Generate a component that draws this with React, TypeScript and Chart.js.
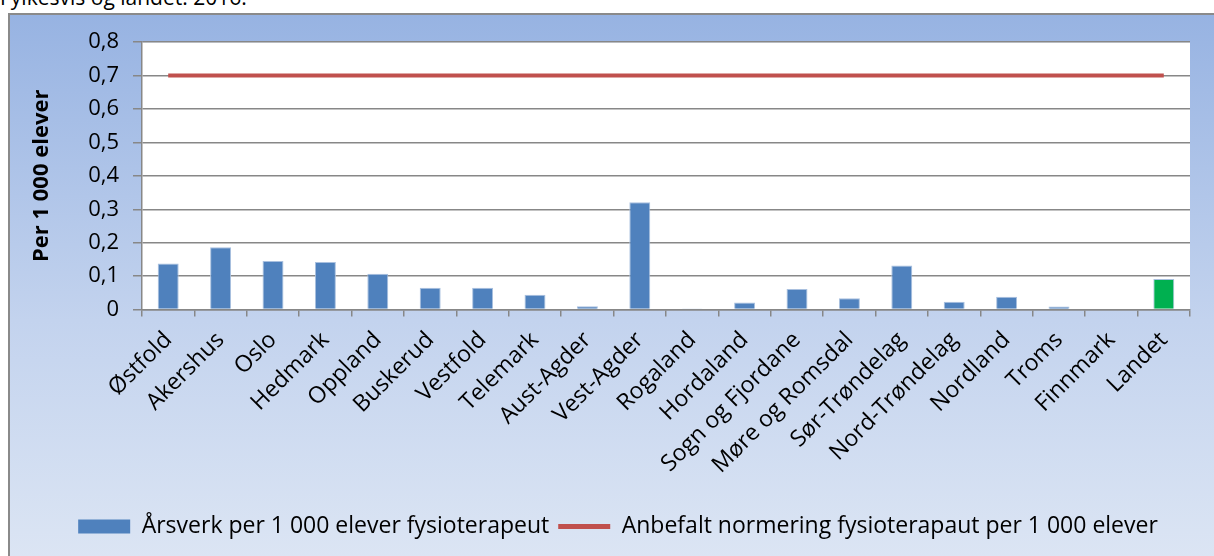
import React, { useEffect, useRef } from "react";
import { Chart, registerables } from "chart.js";

Chart.register(...registerables);

const categories = [
  "Østfold", "Akershus", "Oslo", "Hedmark", "Oppland", "Buskerud", "Vestfold",
  "Telemark", "Aust-Agder", "Vest-Agder", "Rogaland", "Hordaland",
  "Sogn og Fjordane", "Møre og Romsdal", "Sør-Trøndelag", "Nord-Trøndelag",
  "Nordland", "Troms", "Finnmark", "Landet",
];

const arsverk = [
  0.138, 0.186, 0.145, 0.142, 0.107, 0.065, 0.065, 0.044, 0.010, 0.321,
  0.001, 0.021, 0.061, 0.034, 0.132, 0.023, 0.038, 0.009, 0.0, 0.091,
];

const anbefalt = [
  0.7, 0.7, 0.7, 0.7, 0.7, 0.7, 0.7, 0.7, 0.7, 0.7,
  0.7, 0.7, 0.7, 0.7, 0.7, 0.7, 0.7, 0.7, 0.7, 0.7,
];

const yTickLabels = ["0", "0,1", "0,2", "0,3", "0,4", "0,5", "0,6", "0,7", "0,8"];

const barColors = [
  "#4f81bd", "#4f81bd", "#4f81bd", "#4f81bd", "#4f81bd", "#4f81bd", "#4f81bd",
  "#4f81bd", "#4f81bd", "#4f81bd", "#4f81bd", "#4f81bd", "#4f81bd", "#4f81bd",
  "#4f81bd", "#4f81bd", "#4f81bd", "#4f81bd", "#4f81bd", "#00b050",
];

const FONT = "'Open Sans', sans-serif";
const GRID = "#878787";
const PAD_BOTTOM = 8;
const PLOT_BOTTOM = 294.5;

const plotBg = {
  id: "plotBg",
  beforeDraw(chart: any) {
    const { ctx, chartArea } = chart;
    if (!chartArea) return;
    ctx.save();
    ctx.fillStyle = "#ffffff";
    ctx.fillRect(chartArea.left, chartArea.top, chartArea.right - chartArea.left, chartArea.bottom - chartArea.top);
    ctx.restore();
  },
};

export default function App() {
  const ref = useRef<HTMLCanvasElement | null>(null);

  useEffect(() => {
    if (!ref.current) return;
    const chart = new Chart(ref.current, {
      type: "bar",
      data: {
        labels: categories,
        datasets: [
          {
            type: "bar",
            label: "Årsverk per 1 000 elever fysioterapeut",
            data: arsverk,
            backgroundColor: barColors,
            borderColor: "#a9c0df",
            borderWidth: 1,
            barPercentage: 0.4,
            categoryPercentage: 1,
            order: 2,
          } as any,
          {
            type: "line",
            label: "Anbefalt normering fysioterapaut per 1 000 elever",
            data: anbefalt,
            borderColor: "#c0504d",
            backgroundColor: "#c0504d",
            borderWidth: 4,
            pointRadius: 0,
            pointStyle: "line",
            order: 1,
          } as any,
        ],
      },
      options: {
        responsive: false,
        animation: false,
        events: [],
        layout: { padding: { left: 0, right: 0, top: 27, bottom: PAD_BOTTOM } },
        plugins: {
          tooltip: { enabled: false },
          legend: {
            position: "bottom",
            labels: {
              usePointStyle: true,
              pointStyleWidth: 52,
              boxHeight: 14,
              color: "#000",
              padding: 9,
              font: { family: FONT, size: 23 },
              sort: (a: any, b: any) => a.datasetIndex - b.datasetIndex,
              generateLabels(chart: any) {
                const items = Chart.defaults.plugins.legend.labels.generateLabels(chart);
                items.forEach((it: any) => {
                  if (it.datasetIndex === 0) {
                    it.pointStyle = "rect";
                    it.fillStyle = "#4f81bd";
                    it.strokeStyle = "#4f81bd";
                    it.lineWidth = 0;
                  } else {
                    it.pointStyle = "line";
                    it.strokeStyle = "#c0504d";
                    it.lineWidth = 5;
                  }
                });
                return items;
              },
            },
          },
        },
        scales: {
          x: {
            grid: { offset: true, drawOnChartArea: false, drawTicks: true, tickLength: 7, color: GRID, lineWidth: 1.5 },
            border: { color: GRID, width: 1.5 },
            ticks: {
              autoSkip: false,
              maxRotation: 45,
              minRotation: 45,
              color: "#000",
              padding: 10,
              font: { family: FONT, size: 23 },
            },
            afterFit(s: any) {
              const lh = s.chart.legend ? s.chart.legend.height : 42;
              s.height = s.chart.height - PAD_BOTTOM - lh - PLOT_BOTTOM;
            },
          },
          y: {
            min: 0,
            max: 0.8,
            ticks: {
              stepSize: 0.1,
              color: "#000",
              padding: 14,
              font: { family: FONT, size: 22 },
              callback: (_v: any, i: number) => yTickLabels[i],
            },
            grid: { color: GRID, lineWidth: 1.5, tickLength: 9 },
            border: { color: GRID, width: 1.5 },
            title: {
              display: true,
              text: "Per 1 000 elever",
              color: "#000",
              font: { family: FONT, size: 22, weight: "bold" },
              padding: { top: 19, bottom: 0 },
            },
            afterFit(s: any) {
              s.width = 132;
            },
          },
          spacer: {
            type: "linear",
            position: "right",
            display: true,
            min: 0,
            max: 1,
            grid: { display: false, drawTicks: false },
            border: { display: false },
            ticks: { display: false },
            afterFit(s: any) {
              s.width = 36;
            },
          } as any,
        },
      },
      plugins: [plotBg],
    });
    return () => chart.destroy();
  }, []);

  return (
    <div style={{ position: "fixed", left: 0, top: 0, width: 1214, height: 556, overflow: "hidden", background: "#fff" }}>
      <div
        style={{
          position: "absolute",
          left: 0,
          top: -14,
          fontFamily: FONT,
          fontSize: 21,
          lineHeight: "22px",
          whiteSpace: "nowrap",
          color: "#000",
        }}
      >
        Fylkesvis og landet. 2016.
      </div>
      <div
        style={{
          position: "absolute",
          left: 8,
          top: 13,
          width: 1220,
          height: 560,
          boxSizing: "border-box",
          border: "2px solid #8a8a8a",
          background: "linear-gradient(to bottom, #97b3e2 0%, #c3d3ee 55%, #dde6f4 100%)",
        }}
      >
        <canvas ref={ref} width={1216} height={541} style={{ display: "block", width: 1216, height: 541 }} />
      </div>
    </div>
  );
}
